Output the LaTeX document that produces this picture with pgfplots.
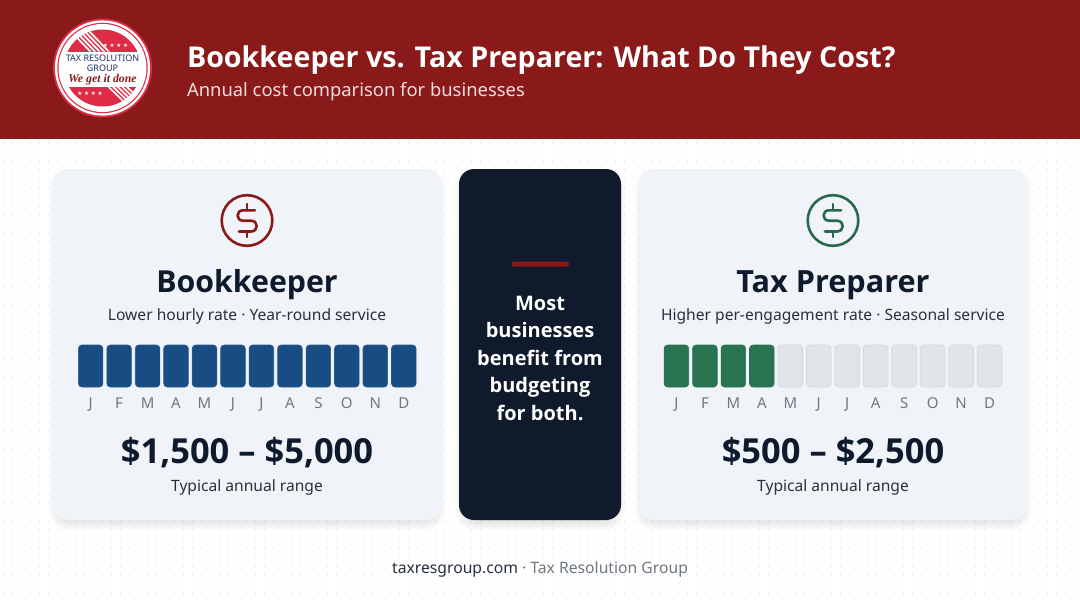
\documentclass[border=0pt]{standalone}
\usepackage{pgfplots}
\pgfplotsset{compat=1.18}
\usepackage{fontspec}
\setmainfont{Noto Sans}
\newfontfamily\boldf{Open Sans}
\newfontfamily\serifit{Liberation Serif}
\newfontfamily\symfont{DejaVu Sans}
\definecolor{hdr}{HTML}{8A1919}
\definecolor{card}{HTML}{F0F4F8}
\definecolor{ink}{HTML}{0F1A2C}
\definecolor{midink}{HTML}{27303E}
\definecolor{mon}{HTML}{6F7780}
\definecolor{blu}{HTML}{184C82}
\definecolor{bluE}{HTML}{2A5A8A}
\definecolor{grn}{HTML}{2A7350}
\definecolor{gry}{HTML}{E1E4E8}
\definecolor{gryE}{HTML}{D6DADE}
\definecolor{logored}{HTML}{DE2C46}
\definecolor{lognavy}{HTML}{1D2F6B}
\definecolor{grnI}{HTML}{27694A}
\definecolor{dots}{HTML}{E8EAEE}
\newcommand{\fs}[1]{\fontsize{#1}{#1}\selectfont}
\newcommand{\bd}[1]{\boldf\bfseries\fontsize{#1}{#1}\selectfont}
\pgfplotstableread{
m v
0 1
1 1
2 1
3 1
4 1
5 1
6 1
7 1
8 1
9 1
10 1
11 1
}\bookkeeper
\pgfplotstableread{
m v
0 1
1 1
2 1
3 1
}\preparerOn
\pgfplotstableread{
m v
4 1
5 1
6 1
7 1
8 1
9 1
10 1
11 1
}\preparerOff
\pgfplotsset{months/.style={
  scale only axis,width=341.6pt,height=42pt,
  anchor=south west,
  xmin=-0.5,xmax=11.5,ymin=0,ymax=1,
  ybar,bar width=24.6pt,bar shift=0pt,
  axis y line=none,axis x line*=bottom,
  axis line style={draw=none},
  ytick=\empty,
  xtick={0,1,2,3,4,5,6,7,8,9,10,11},
  xticklabels={J,F,M,A,M,J,J,A,S,O,N,D},
  major tick length=0pt,
  xticklabel style={font=\fs{15},text=mon,anchor=base,yshift=-21pt},
  clip=false,
}}
\newcommand{\shadowcard}[5]{% x1 y1 x2 y2 fill
  \foreach \s in {1,...,8}{
    \fill[black,opacity=0.013,rounded corners=18pt]
      (#1-5+\s,#2-1+\s) rectangle (#3+5-\s,#4+11-\s);
  }
  \fill[#5,rounded corners=15pt] (#1,#2) rectangle (#3,#4);
}
\newcommand{\dollar}[3]{% cx cy colour
  \begin{scope}[shift={(#1,#2)},draw=#3,line width=2.6pt,line cap=round,line join=round]
    \draw (0,0) circle (25.3);
    \draw[line width=2.6pt] (8,-10.2) -- (-4,-10.2) .. controls (-11.2,-10.2) and (-11.2,0.2) .. (-4,0.2) -- (4,0.2)
       .. controls (11.6,0.2) and (11.6,11) .. (4,11) -- (-8,11);
    \draw[line width=2.6pt] (0,-16.5) -- (0,-10.2) (0,11) -- (0,16.5);
  \end{scope}
}
\begin{document}
\begin{tikzpicture}[x=1pt,y=-1pt,inner sep=0pt,outer sep=0pt]
\path[use as bounding box] (0,0) rectangle (1080,603);
\fill[white] (0,0) rectangle (1080,603);
% dotted ground
\foreach \r in {0,...,50}{
  \draw[dots,line width=1.1pt,dash pattern=on 1.1pt off 7.9pt] (3,143+\r*9) -- (1080,143+\r*9);
}
% header
\fill[hdr] (0,0) rectangle (1080,138.5);
% logo
\begin{scope}[shift={(102.5,68)}]
  \fill[logored] (0,0) circle (49.5);
  \fill[white] (0,0) circle (47.6);
  \fill[logored] (0,0) circle (45.2);
  \fill[white] (0,0) circle (44);
  \begin{scope}
    \clip (0,0) circle (38.5);
    \fill[logored] (-40,-40) rectangle (40,-16.5);
    \fill[logored] (-40,19) rectangle (40,40);
    \foreach \k in {0,...,4}{
      \fill[white] (-36+\k*4.6,-40) -- (-33.6+\k*4.6,-40) -- (-11+\k*4.6,-16.5) -- (-13.4+\k*4.6,-16.5) -- cycle;
      \fill[white] (5+\k*4.6,19) -- (7.4+\k*4.6,19) -- (30+\k*4.6,41) -- (27.6+\k*4.6,41) -- cycle;
    }
  \end{scope}
  \node[text=white,font=\symfont\fs{5.6}] at (13,-23) {★ ★ ★ ★};
  \node[text=white,font=\symfont\fs{5.6}] at (-12.5,25) {★ ★ ★ ★};
  \node[text=lognavy,font=\fs{9}] at (0,-10) {TAX RESOLUTION};
  \node[text=lognavy,font=\fs{9}] at (0,0) {GROUP};
  \node[text=hdr,font=\serifit\bfseries\itshape\fs{11.8}] at (0,11.2) {We get it done};
\end{scope}
% title
\node[anchor=base west,text=white,font=\bd{28.65}] at (187,67) {Bookkeeper vs. Tax Preparer: What Do They Cost?};
\node[anchor=base west,text=white,opacity=0.85,font=\fs{18.4}] at (187,96.5) {Annual cost comparison for businesses};
% cards
\shadowcard{53}{169}{441}{520}{card}
\shadowcard{459}{169}{621}{520}{ink}
\shadowcard{639}{169}{1027}{520}{card}
\dollar{247}{220.5}{hdr}
\dollar{833}{220.5}{grnI}
% left text
\node[anchor=base,text=ink,font=\bd{30.3}] at (247,292) {Bookkeeper};
\node[anchor=base,text=midink,font=\fs{15.6}] at (247,320) {Lower hourly rate · Year-round service};
\node[anchor=base,text=ink,font=\bd{34.5}] at (247,463.5) {\$1,500 – \$5,000};
\node[anchor=base,text=midink,font=\fs{15.6}] at (247,491) {Typical annual range};
% right text
\node[anchor=base,text=ink,font=\bd{30.6}] at (833,292) {Tax Preparer};
\node[anchor=base,text=midink,font=\fs{15.6}] at (833,320) {Higher per-engagement rate · Seasonal service};
\node[anchor=base,text=ink,font=\bd{34.5}] at (833,463.5) {\$500 – \$2,500};
\node[anchor=base,text=midink,font=\fs{15.6}] at (833,491) {Typical annual range};
% middle
\fill[hdr,rounded corners=2.5pt] (511.5,261.5) rectangle (569,266.5);
\foreach \t/\yy in {Most/310,businesses/337.5,benefit from/365,budgeting/392.5,for both./420}{
  \node[anchor=base,text=white,font=\bd{20}] at (540,\yy) {\t};
}
% footer
\node[anchor=base,font=\fs{15.7}] at (540,573) {\textcolor{midink}{taxresgroup.com}~\textcolor{mon}{· Tax Resolution Group}};
% month charts
\begin{axis}[months,at={(76.4pt,-387pt)}]
  \addplot[fill=blu,draw=bluE,line width=0.6pt,rounded corners=3.5pt] table[x=m,y=v] {\bookkeeper};
\end{axis}
\begin{axis}[months,at={(662.2pt,-387pt)}]
  \addplot[fill=grn,draw=grn,line width=0.6pt,rounded corners=3.5pt] table[x=m,y=v] {\preparerOn};
  \addplot[fill=gry,draw=gryE,line width=0.8pt,rounded corners=3.5pt] table[x=m,y=v] {\preparerOff};
\end{axis}
\end{tikzpicture}
\end{document}
